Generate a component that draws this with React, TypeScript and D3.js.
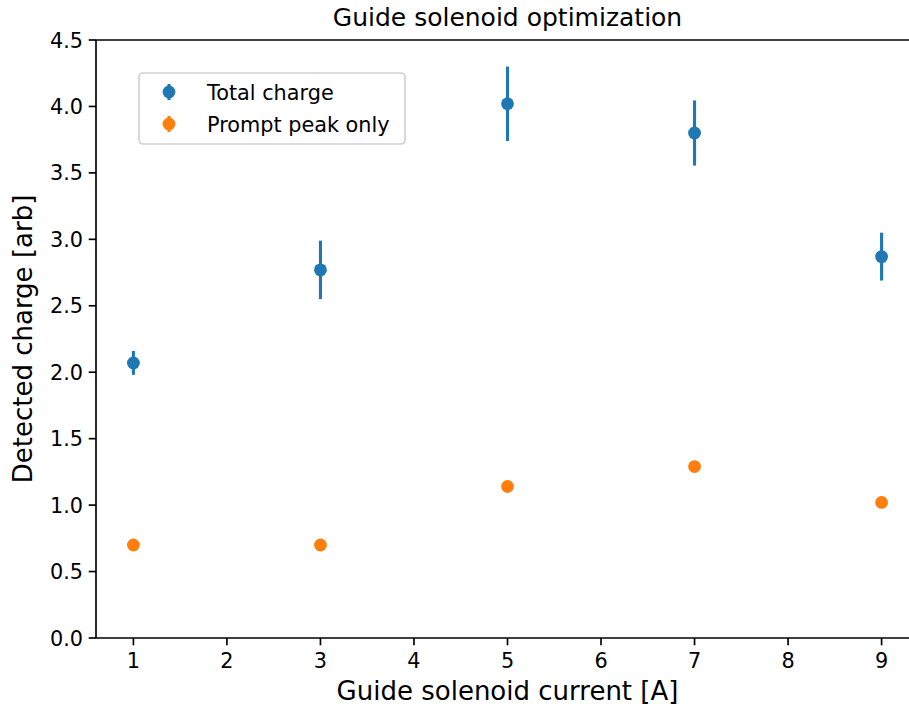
import React from "react";
import * as d3 from "d3";

const currents = [1, 3, 5, 7, 9];
const totalCharge = [2.07, 2.77, 4.02, 3.8, 2.87];
const totalErr = [0.09, 0.22, 0.28, 0.245, 0.18];
const promptCharge = [0.7, 0.7, 1.14, 1.29, 1.02];
const promptErr = [0.02, 0.02, 0.02, 0.02, 0.02];
const xTicks = [1, 2, 3, 4, 5, 6, 7, 8, 9];
const yTicks = [0, 0.5, 1, 1.5, 2, 2.5, 3, 3.5, 4, 4.5];
const seriesNames = ["Total charge", "Prompt peak only"];
const colors = ["#1f77b4", "#ff7f0e"];

const W = 909;
const H = 711;
const FONT = "DejaVu Sans, sans-serif";

export default function App() {
  const x = d3.scaleLinear().domain([0.6, 9.4]).range([96, 919]);
  const y = d3.scaleLinear().domain([0, 4.5]).range([638, 40]);
  const series = [
    { vals: totalCharge, errs: totalErr, color: colors[0] },
    { vals: promptCharge, errs: promptErr, color: colors[1] },
  ];
  const axisColor = "#000";
  const tickLen = 7.3;
  const left = x.range()[0];
  const right = x.range()[1];
  const top = y.range()[1];
  const bottom = y.range()[0];
  return (
    <svg
      width={W}
      height={H}
      style={{ position: "fixed", left: 0, top: 0, background: "#fff" }}
      fontFamily={FONT}
    >
      <rect x={0} y={0} width={W} height={H} fill="#fff" />
      {/* data */}
      {series.map((s, si) => (
        <g key={si}>
          {currents.map((c, i) => (
            <g key={i}>
              <line
                x1={x(c)}
                x2={x(c)}
                y1={y(s.vals[i] - s.errs[i])}
                y2={y(s.vals[i] + s.errs[i])}
                stroke={s.color}
                strokeWidth={3.1}
              />
              <circle cx={x(c)} cy={y(s.vals[i])} r={6.4} fill={s.color} />
            </g>
          ))}
        </g>
      ))}
      {/* spines */}
      <line x1={left} x2={left} y1={top} y2={bottom} stroke={axisColor} strokeWidth={1.67} />
      <line x1={right} x2={right} y1={top} y2={bottom} stroke={axisColor} strokeWidth={1.67} />
      <line x1={left} x2={right} y1={top} y2={top} stroke={axisColor} strokeWidth={1.67} />
      <line x1={left} x2={right} y1={bottom} y2={bottom} stroke={axisColor} strokeWidth={1.67} />
      {/* x ticks */}
      {xTicks.map((t) => (
        <g key={t}>
          <line x1={x(t)} x2={x(t)} y1={bottom} y2={bottom + tickLen} stroke={axisColor} strokeWidth={1.67} />
          <text x={x(t)} y={bottom + 30} textAnchor="middle" fontSize={20.8} fill="#000">
            {t}
          </text>
        </g>
      ))}
      {/* y ticks */}
      {yTicks.map((t) => (
        <g key={t}>
          <line x1={left - tickLen} x2={left} y1={y(t)} y2={y(t)} stroke={axisColor} strokeWidth={1.67} />
          <text x={left - 13} y={y(t) + 7.5} textAnchor="end" fontSize={20.8} fill="#000">
            {t.toFixed(1)}
          </text>
        </g>
      ))}
      {/* labels */}
      <text x={(left + right) / 2} y={700} textAnchor="middle" fontSize={26} fill="#000">
        Guide solenoid current [A]
      </text>
      <text
        transform={`translate(32, ${(top + bottom) / 2}) rotate(-90)`}
        textAnchor="middle"
        fontSize={26}
        fill="#000"
      >
        Detected charge [arb]
      </text>
      <text x={(left + right) / 2} y={26} textAnchor="middle" fontSize={25} fill="#000">
        Guide solenoid optimization
      </text>
      {/* legend */}
      <rect x={139} y={73} width={266} height={71} rx={4} fill="#fff" fillOpacity={0.8} stroke="#d0d0d0" strokeWidth={1.67} />
      {seriesNames.map((name, i) => {
        const cy = 92 + i * 32;
        return (
          <g key={name}>
            <line x1={169} x2={169} y1={cy - 8} y2={cy + 8} stroke={colors[i]} strokeWidth={3.1} />
            <circle cx={169} cy={cy} r={6.4} fill={colors[i]} />
            <text x={207} y={cy + 7.5} fontSize={20.8} fill="#000">
              {name}
            </text>
          </g>
        );
      })}
    </svg>
  );
}
